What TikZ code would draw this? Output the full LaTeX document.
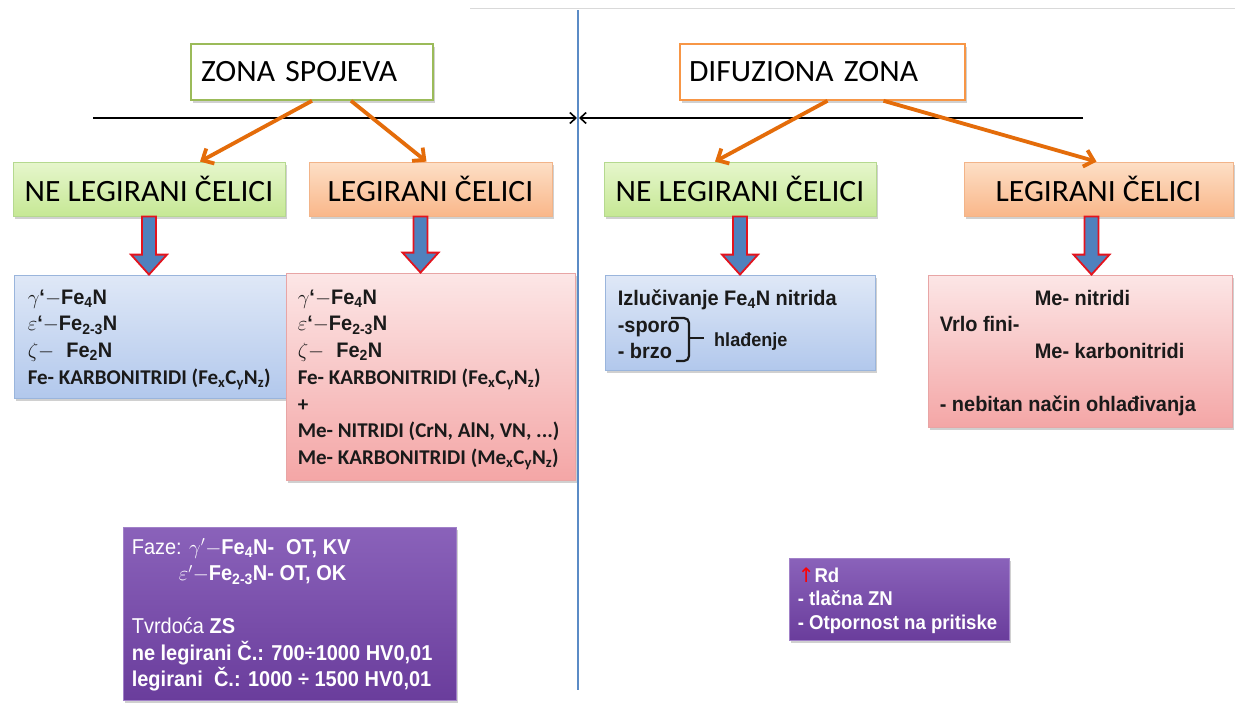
\documentclass[tikz,border=0pt]{standalone}
\usepackage{fontspec}
\setmainfont{Carlito}
\newfontfamily\titlef{Carlito}[FakeStretch=1.02]
\newfontfamily\arialf{Liberation Sans}[FakeStretch=0.95]
\newfontfamily\arialp{Liberation Sans}[FakeStretch=0.93]
\newfontfamily\dejavuf{DejaVu Sans}
\usetikzlibrary{arrows.meta,shadows,calc,decorations.pathreplacing}
\definecolor{tgreen}{HTML}{9BBB59}
\definecolor{torange}{HTML}{F79646}
\definecolor{arrorange}{HTML}{E46C0A}
\definecolor{vblue}{HTML}{5B8BC6}
\definecolor{gtop}{HTML}{E6F6CC}
\definecolor{gbot}{HTML}{C6E895}
\definecolor{gbord}{HTML}{B5D98F}
\definecolor{otop}{HTML}{FDDFC6}
\definecolor{obot}{HTML}{F9B78A}
\definecolor{obord}{HTML}{F2B489}
\definecolor{btop}{HTML}{DFE8F7}
\definecolor{bbot}{HTML}{B2C8EC}
\definecolor{bbord}{HTML}{9AB5DC}
\definecolor{ptop}{HTML}{FCE6E6}
\definecolor{pbot}{HTML}{F4A6A6}
\definecolor{pbord}{HTML}{E8A5A5}
\definecolor{vtop}{HTML}{8A62BA}
\definecolor{vbot}{HTML}{6A3D9C}
\definecolor{arrblue}{HTML}{4F81BD}
\definecolor{arrred}{HTML}{E3141E}
\definecolor{txtdark}{HTML}{1A1A1A}
\newcommand\calb{\normalfont\bfseries\fontsize{21}{26.7}\selectfont}
\newcommand\fatarrow[2]{\path[fatarr] let \p1=(#1), \p2=(#2) in
  (\x1-7pt,\y1) -- (\x1-7pt,\y2+20pt) -- (\x1-18pt,\y2+20pt) -- (\x1,\y2)
  -- (\x1+18pt,\y2+20pt) -- (\x1+7pt,\y2+20pt) -- (\x1+7pt,\y1) -- cycle;}
\tikzset{
  shad/.style={drop shadow={shadow xshift=2pt,shadow yshift=-3pt,opacity=0.3,fill=black!60}},
  titlebox/.style={draw,line width=1.6pt,fill=white,inner sep=0pt,minimum height=56,
    font=\titlef\fontsize{31}{33}\selectfont,align=left,shad},
  lvl/.style={inner sep=0pt,minimum height=54,line width=0.8pt,
    font=\titlef\fontsize{31}{33}\selectfont,shad},
  gbox/.style={lvl,draw=gbord,top color=gtop,bottom color=gbot},
  obox/.style={lvl,draw=obord,top color=otop,bottom color=obot},
  bluebox/.style={inner sep=0pt,draw=bbord,line width=0.8pt,top color=btop,bottom color=bbot,shad},
  pinkbox/.style={inner sep=0pt,draw=pbord,line width=0.8pt,top color=ptop,bottom color=pbot,shad},
  purplebox/.style={inner sep=0pt,draw=vtop!80!white,line width=0.8pt,top color=vtop,bottom color=vbot,shad},
  txt/.style={inner sep=0pt,anchor=north west,align=left,text=txtdark,
    font=\arialf\bfseries\fontsize{21}{26.7}\selectfont},
  wtxt/.style={inner sep=0pt,anchor=north west,align=left,text=white,
    font=\arialp\bfseries\fontsize{21.5}{26.5}\selectfont},
  orarrow/.style={draw=arrorange,line width=3.8pt,-{Straight Barb[length=9pt,width=17pt]}},
  hline/.style={draw=black,line width=1.6pt,-{Straight Barb[length=6pt,width=11pt]}},
  fatarr/.style={fill=arrblue,draw=arrred,line width=1.8pt,line join=miter},
}
\begin{document}
\begin{tikzpicture}[x=1pt,y=-1pt]
\useasboundingbox[fill=white] (0,0) rectangle (1235,704);
% faint top line
\coordinate (gl) at (470,8);
\coordinate (gr) at (1235,8);
\draw[black!15,line width=1pt] (gl) -- (gr);
% horizontal arrows
\coordinate (hl) at (93,118);
\coordinate (hm) at (578,118);
\coordinate (hr) at (1083,118);
\draw[hline] (hl) -- ($(hm)+(-1,0)$);
\draw[hline] (hr) -- ($(hm)+(1,0)$);
% vertical line
\coordinate (vt) at (578,10);
\coordinate (vb) at (578,690);
\draw[vblue,line width=1.8pt] (vt) -- (vb);
% titles
\node[titlebox,draw=tgreen,minimum width=242,text width=222] (zs) at (312,72) {ZONA SPOJEVA};
\node[titlebox,draw=torange,minimum width=285,text width=267] (dz) at (822.5,72) {DIFUZIONA ZONA};
% level 2
\node[gbox,minimum width=272] (a) at (149,189) {NE LEGIRANI ČELICI};
\node[obox,minimum width=243] (b) at (430.5,189) {LEGIRANI ČELICI};
\node[gbox,minimum width=272] (c) at (740,189) {NE LEGIRANI ČELICI};
\node[obox,minimum width=269] (d) at (1098.5,189) {LEGIRANI ČELICI};
% orange arrows
\draw[orarrow] (zs.south) -- ($(a.north)+(51,0)$);
\draw[orarrow] ($(zs.south)+(39,0)$) -- ($(b.north)+(-4,0)$);
\draw[orarrow] ($(dz.south)+(5,0)$) -- ($(c.north)+(-25,0)$);
\draw[orarrow] ($(dz.south)+(61,0)$) -- ($(d.north)+(-2,0)$);
% level 3 boxes
\node[bluebox,minimum width=272,minimum height=123] (e) at (150,336.5) {};
\node[pinkbox,minimum width=289,minimum height=207] (f) at (430.5,376.5) {};
\node[bluebox,minimum width=270,minimum height=95] (g) at (740,322.5) {};
\node[pinkbox,minimum width=304,minimum height=152] (h) at (1080,351) {};
% fat arrows
\fatarrow{a.south}{e.north}
\fatarrow{$(b.south)+(-10,0)$}{f.north}
\fatarrow{c.south}{g.north}
\fatarrow{$(d.south)+(-7,0)$}{h.north}
% texts of level 3
\node[txt] (et) at ($(e.north west)+(14,15)$) {%
$\gamma$‘$-$Fe\textsubscript{4}N\\
$\varepsilon$‘$-$Fe\textsubscript{2-3}N\\
$\zeta-$\hspace{12pt}Fe\textsubscript{2}N\\
{\calb Fe- KARBONITRIDI (Fe\textsubscript{x}C\textsubscript{y}N\textsubscript{z})}};
\node[txt] (ft) at ($(f.north west)+(12,17)$) {%
$\gamma$‘$-$Fe\textsubscript{4}N\\
$\varepsilon$‘$-$Fe\textsubscript{2-3}N\\
$\zeta-$\hspace{12pt}Fe\textsubscript{2}N\\
{\calb Fe- KARBONITRIDI (Fe\textsubscript{x}C\textsubscript{y}N\textsubscript{z})}\\
{\calb +}\\
{\calb Me- NITRIDI (CrN, AlN, VN, ...)}\\
{\calb Me- KARBONITRIDI (Me\textsubscript{x}C\textsubscript{y}N\textsubscript{z})}};
\node[txt] (gt) at ($(g.north west)+(13,15)$) {%
Izlučivanje Fe\textsubscript{4}N nitrida\\
-sporo\\
- brzo};
\coordinate (brt) at (671,318);
\coordinate (brb) at (676,361);
\coordinate (brm) at (704,338);
\draw[txtdark,line width=2.2pt,rounded corners=5pt]
  (brt) -| (689,361) -- (brb);
\draw[txtdark,line width=2.2pt] (689,338) -- (brm);
\node[inner sep=0pt,anchor=west,text=txtdark,font=\arialf\bfseries\fontsize{19}{22}\selectfont] (gh) at (714,342) {hlađenje};
\node[txt] (ht) at ($(h.north west)+(12,15)$) {%
\hspace*{95pt}Me- nitridi\\
Vrlo fini-\\
\hspace*{95pt}Me- karbonitridi\\[26.7pt]
- nebitan način ohlađivanja};
% purple boxes
\node[purplebox,minimum width=333,minimum height=173] (i) at (289.5,613.5) {};
\node[purplebox,minimum width=220,minimum height=82] (j) at (899,599) {};
\node[wtxt] (it) at ($(i.north west)+(9,12)$) {%
{\mdseries Faze:} $\gamma'-$Fe\textsubscript{4}N-\hspace{12pt}OT, KV\\
\hspace*{47pt}$\varepsilon'-$Fe\textsubscript{2-3}N- OT, OK\\[26.5pt]
{\mdseries Tvrdoća} ZS\\
ne legirani Č.: 700÷1000 HV0,01\\
legirani\ \ Č.: 1000 ÷ 1500 HV0,01};
\node[wtxt,font=\arialp\bfseries\fontsize{20}{23.5}\selectfont] (jt) at ($(j.north west)+(9,10)$) {%
{\color{red}\dejavuf\mdseries ↑}Rd\\
- tlačna ZN\\
- Otpornost na pritiske};
\end{tikzpicture}
\end{document}
